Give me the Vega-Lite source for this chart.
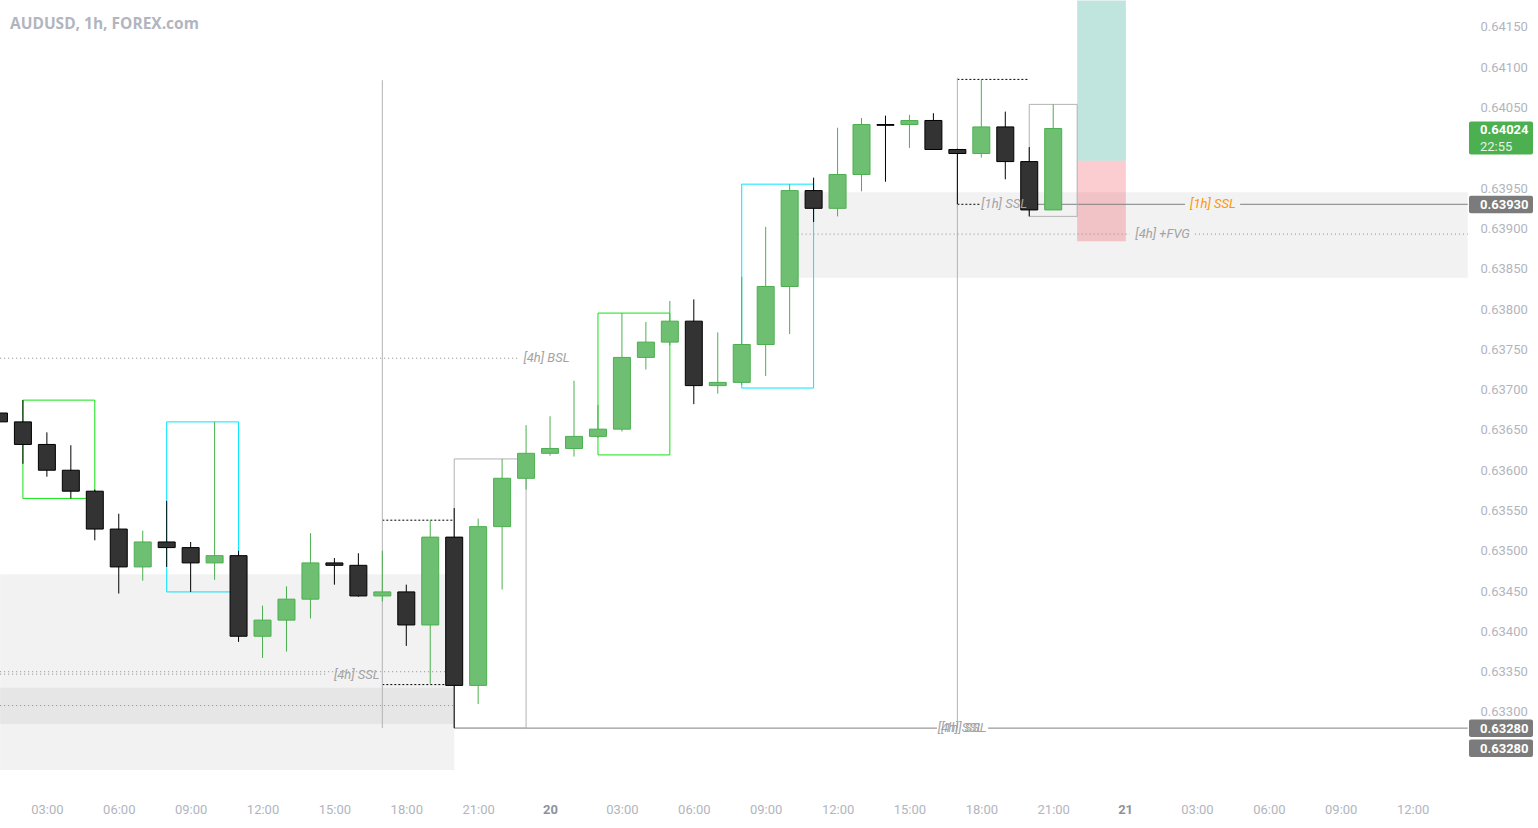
{
  "$schema": "https://vega.github.io/schema/vega-lite/v6.json",
  "width": 1468,
  "height": 795,
  "autosize": {"type": "none"},
  "padding": {"left": 0, "top": 0, "right": 70, "bottom": 33},
  "background": "#ffffff",
  "config": {
    "view": {"stroke": null},
    "axis": {"domain": false, "ticks": false, "grid": false, "labelFont": "Roboto", "labelFontSize": 13, "labelColor": "#b2b5be", "labelOverlap": false, "labelFlush": false, "labelBound": false}
  },
  "title": {"text": "AUDUSD, 1h, FOREX.com", "anchor": "start", "frame": "group", "orient": "top", "offset": 0, "baseline": "alphabetic", "dx": 10, "dy": 44, "font": "Open Sans", "fontSize": 15.5, "fontWeight": "bold", "color": "#b2b5be"},
  "datasets": {
    "candles": [
      {"t": "2024-11-19T01:00:00Z", "o": 0.63671, "h": 0.63674, "l": 0.63657, "c": 0.63660},
      {"t": "2024-11-19T02:00:00Z", "o": 0.63660, "h": 0.63687, "l": 0.63608, "c": 0.63632},
      {"t": "2024-11-19T03:00:00Z", "o": 0.63632, "h": 0.63647, "l": 0.63592, "c": 0.63600},
      {"t": "2024-11-19T04:00:00Z", "o": 0.63600, "h": 0.63631, "l": 0.63565, "c": 0.63574},
      {"t": "2024-11-19T05:00:00Z", "o": 0.63574, "h": 0.63576, "l": 0.63513, "c": 0.63527},
      {"t": "2024-11-19T06:00:00Z", "o": 0.63527, "h": 0.63546, "l": 0.63447, "c": 0.63480},
      {"t": "2024-11-19T07:00:00Z", "o": 0.63480, "h": 0.63525, "l": 0.63463, "c": 0.63511},
      {"t": "2024-11-19T08:00:00Z", "o": 0.63511, "h": 0.63562, "l": 0.63480, "c": 0.63504},
      {"t": "2024-11-19T09:00:00Z", "o": 0.63504, "h": 0.63511, "l": 0.63449, "c": 0.63485},
      {"t": "2024-11-19T10:00:00Z", "o": 0.63485, "h": 0.63660, "l": 0.63464, "c": 0.63494},
      {"t": "2024-11-19T11:00:00Z", "o": 0.63494, "h": 0.63500, "l": 0.63387, "c": 0.63394},
      {"t": "2024-11-19T12:00:00Z", "o": 0.63394, "h": 0.63432, "l": 0.63367, "c": 0.63414},
      {"t": "2024-11-19T13:00:00Z", "o": 0.63414, "h": 0.63456, "l": 0.63375, "c": 0.63440},
      {"t": "2024-11-19T14:00:00Z", "o": 0.63440, "h": 0.63522, "l": 0.63416, "c": 0.63485},
      {"t": "2024-11-19T15:00:00Z", "o": 0.63485, "h": 0.63491, "l": 0.63458, "c": 0.63482},
      {"t": "2024-11-19T16:00:00Z", "o": 0.63482, "h": 0.63497, "l": 0.63443, "c": 0.63444},
      {"t": "2024-11-19T17:00:00Z", "o": 0.63444, "h": 0.63500, "l": 0.63437, "c": 0.63449},
      {"t": "2024-11-19T18:00:00Z", "o": 0.63449, "h": 0.63458, "l": 0.63382, "c": 0.63408},
      {"t": "2024-11-19T19:00:00Z", "o": 0.63408, "h": 0.63538, "l": 0.63335, "c": 0.63517},
      {"t": "2024-11-19T20:00:00Z", "o": 0.63517, "h": 0.63553, "l": 0.63280, "c": 0.63333},
      {"t": "2024-11-19T21:00:00Z", "o": 0.63333, "h": 0.63540, "l": 0.63310, "c": 0.63530},
      {"t": "2024-11-19T22:00:00Z", "o": 0.63530, "h": 0.63614, "l": 0.63452, "c": 0.63590},
      {"t": "2024-11-19T23:00:00Z", "o": 0.63590, "h": 0.63656, "l": 0.63576, "c": 0.63621},
      {"t": "2024-11-20T00:00:00Z", "o": 0.63621, "h": 0.63667, "l": 0.63618, "c": 0.63627},
      {"t": "2024-11-20T01:00:00Z", "o": 0.63627, "h": 0.63711, "l": 0.63617, "c": 0.63642},
      {"t": "2024-11-20T02:00:00Z", "o": 0.63642, "h": 0.63681, "l": 0.63640, "c": 0.63651},
      {"t": "2024-11-20T03:00:00Z", "o": 0.63651, "h": 0.63795, "l": 0.63648, "c": 0.63740},
      {"t": "2024-11-20T04:00:00Z", "o": 0.63740, "h": 0.63784, "l": 0.63725, "c": 0.63759},
      {"t": "2024-11-20T05:00:00Z", "o": 0.63759, "h": 0.63810, "l": 0.63755, "c": 0.63785},
      {"t": "2024-11-20T06:00:00Z", "o": 0.63785, "h": 0.63812, "l": 0.63682, "c": 0.63705},
      {"t": "2024-11-20T07:00:00Z", "o": 0.63705, "h": 0.63771, "l": 0.63695, "c": 0.63709},
      {"t": "2024-11-20T08:00:00Z", "o": 0.63709, "h": 0.63840, "l": 0.63706, "c": 0.63756},
      {"t": "2024-11-20T09:00:00Z", "o": 0.63756, "h": 0.63902, "l": 0.63717, "c": 0.63828},
      {"t": "2024-11-20T10:00:00Z", "o": 0.63828, "h": 0.63955, "l": 0.63769, "c": 0.63947},
      {"t": "2024-11-20T11:00:00Z", "o": 0.63947, "h": 0.63963, "l": 0.63908, "c": 0.63925},
      {"t": "2024-11-20T12:00:00Z", "o": 0.63925, "h": 0.64025, "l": 0.63915, "c": 0.63967},
      {"t": "2024-11-20T13:00:00Z", "o": 0.63967, "h": 0.64037, "l": 0.63946, "c": 0.64029},
      {"t": "2024-11-20T14:00:00Z", "o": 0.64029, "h": 0.64040, "l": 0.63958, "c": 0.64028},
      {"t": "2024-11-20T15:00:00Z", "o": 0.64029, "h": 0.64041, "l": 0.64000, "c": 0.64034},
      {"t": "2024-11-20T16:00:00Z", "o": 0.64034, "h": 0.64043, "l": 0.63998, "c": 0.63998},
      {"t": "2024-11-20T17:00:00Z", "o": 0.63998, "h": 0.63999, "l": 0.63930, "c": 0.63993},
      {"t": "2024-11-20T18:00:00Z", "o": 0.63993, "h": 0.64085, "l": 0.63988, "c": 0.64026},
      {"t": "2024-11-20T19:00:00Z", "o": 0.64026, "h": 0.64045, "l": 0.63961, "c": 0.63983},
      {"t": "2024-11-20T20:00:00Z", "o": 0.63983, "h": 0.64001, "l": 0.63915, "c": 0.63923},
      {"t": "2024-11-20T21:00:00Z", "o": 0.63923, "h": 0.64054, "l": 0.63923, "c": 0.64024}
    ],
    "zones": [
      {"t1": "2024-11-19T01:03:00Z", "t2": "2024-11-19T20:00:00Z", "p1": 0.63285, "p2": 0.63471},
      {"t1": "2024-11-19T01:03:00Z", "t2": "2024-11-19T20:00:00Z", "p1": 0.63228, "p2": 0.63330},
      {"t1": "2024-11-20T10:00:00Z", "t2": "2024-11-21T14:18:00Z", "p1": 0.63839, "p2": 0.63945}
    ],
    "position": [
      {"kind": "target", "t1": "2024-11-20T22:00:00Z", "t2": "2024-11-21T00:02:00Z", "p1": 0.63984, "p2": 0.64183},
      {"kind": "stop", "t1": "2024-11-20T22:00:00Z", "t2": "2024-11-21T00:02:00Z", "p1": 0.63884, "p2": 0.63984}
    ],
    "dotGray": [
      {"t1": "2024-11-19T01:03:00Z", "t2": "2024-11-19T22:42:00Z", "p": 0.63739},
      {"t1": "2024-11-19T01:03:00Z", "t2": "2024-11-19T20:00:00Z", "p": 0.63350},
      {"t1": "2024-11-19T01:03:00Z", "t2": "2024-11-19T14:44:00Z", "p": 0.63347},
      {"t1": "2024-11-19T01:03:00Z", "t2": "2024-11-19T20:00:00Z", "p": 0.63308},
      {"t1": "2024-11-20T10:00:00Z", "t2": "2024-11-21T00:12:00Z", "p": 0.63893},
      {"t1": "2024-11-21T02:55:00Z", "t2": "2024-11-21T14:18:00Z", "p": 0.63893}
    ],
    "dotBlack": [
      {"t1": "2024-11-19T17:00:00Z", "t2": "2024-11-19T20:00:00Z", "p": 0.63538},
      {"t1": "2024-11-19T17:00:00Z", "t2": "2024-11-19T20:00:00Z", "p": 0.63334},
      {"t1": "2024-11-20T17:00:00Z", "t2": "2024-11-20T20:00:00Z", "p": 0.64085},
      {"t1": "2024-11-20T17:00:00Z", "t2": "2024-11-20T17:57:00Z", "p": 0.63930}
    ],
    "solidGray": [
      {"t1": "2024-11-20T19:54:00Z", "t2": "2024-11-21T02:30:00Z", "p": 0.63930},
      {"t1": "2024-11-21T04:48:00Z", "t2": "2024-11-21T14:18:00Z", "p": 0.63930},
      {"t1": "2024-11-19T20:00:00Z", "t2": "2024-11-20T16:09:00Z", "p": 0.63280},
      {"t1": "2024-11-20T18:17:00Z", "t2": "2024-11-21T14:18:00Z", "p": 0.63280}
    ],
    "vlines": [
      {"t": "2024-11-19T17:00:00Z", "p1": 0.63280, "p2": 0.64084},
      {"t": "2024-11-20T17:00:00Z", "p1": 0.63280, "p2": 0.64087}
    ],
    "boxes": [
      {"kind": "lime", "t1": "2024-11-19T02:00:00Z", "t2": "2024-11-19T05:00:00Z", "p1": 0.63565, "p2": 0.63687},
      {"kind": "cyan", "t1": "2024-11-19T08:00:00Z", "t2": "2024-11-19T11:00:00Z", "p1": 0.63449, "p2": 0.63660},
      {"kind": "gray", "t1": "2024-11-19T20:00:00Z", "t2": "2024-11-19T23:00:00Z", "p1": 0.63280, "p2": 0.63614},
      {"kind": "lime", "t1": "2024-11-20T02:00:00Z", "t2": "2024-11-20T05:00:00Z", "p1": 0.63619, "p2": 0.63795},
      {"kind": "cyan", "t1": "2024-11-20T08:00:00Z", "t2": "2024-11-20T11:00:00Z", "p1": 0.63702, "p2": 0.63955},
      {"kind": "gray", "t1": "2024-11-20T20:00:00Z", "t2": "2024-11-20T22:00:00Z", "p1": 0.63915, "p2": 0.64054}
    ],
    "labels": [
      {"text": "[4h] BSL", "t": "2024-11-19T23:51:00Z", "p": 0.63739, "kind": "gray"},
      {"text": "[4h] SSL", "t": "2024-11-19T15:56:00Z", "p": 0.63346, "kind": "gray"},
      {"text": "[1h] SSL", "t": "2024-11-20T18:57:00Z", "p": 0.63930, "kind": "gray"},
      {"text": "[1h] SSL", "t": "2024-11-21T03:40:00Z", "p": 0.63930, "kind": "orange"},
      {"text": "[4h] +FVG", "t": "2024-11-21T01:34:00Z", "p": 0.63893, "kind": "gray"},
      {"text": "[4h] SSL", "t": "2024-11-20T17:08:00Z", "p": 0.63280, "kind": "gray"},
      {"text": "[1h] SSL", "t": "2024-11-20T17:16:00Z", "p": 0.63280, "kind": "gray"}
    ],
    "lastTag": [
      {"p": 0.64024, "label": "0.64024", "sub": "22:55"}
    ],
    "lineTags": [
      {"p": 0.63930, "label": "0.63930"},
      {"p": 0.63280, "label": "0.63280"}
    ],
    "stackTags": [
      {"p": 0.63280, "label": "0.63280"}
    ]
  },
  "layer": [
    {
      "data": {"name": "zones"},
      "mark": {"type": "rect", "fill": "#808080", "opacity": 0.1},
      "encoding": {
        "x": {"field": "t1", "type": "temporal", "scale": {"type": "utc", "domain": [1731978156000, 1732198723000], "padding": 0},
          "axis": {"orient": "bottom", "title": null, "values": [1731985200000, 1731996000000, 1732006800000, 1732017600000, 1732028400000, 1732039200000, 1732050000000, 1732060800000, 1732071600000, 1732082400000, 1732093200000, 1732104000000, 1732114800000, 1732125600000, 1732136400000, 1732147200000, 1732158000000, 1732168800000, 1732179600000, 1732190400000], "labelExpr": "utchours(datum.value) == 0 ? utcFormat(datum.value, '%d') : utcFormat(datum.value, '%H:%M')", "labelPadding": 8, "labelFontWeight": {"condition": {"test": "utchours(datum.value) == 0", "value": "bold"}, "value": "normal"}, "labelColor": {"condition": {"test": "utchours(datum.value) == 0", "value": "#8f929b"}, "value": "#b2b5be"}}},
        "x2": {"field": "t2"},
        "y": {"field": "p1", "type": "quantitative", "scale": {"domain": [0.63197, 0.641835], "nice": false, "zero": false, "padding": 0},
          "axis": {"orient": "right", "title": null, "values": [0.633, 0.6335, 0.634, 0.6345, 0.635, 0.6355, 0.636, 0.6365, 0.637, 0.6375, 0.638, 0.6385, 0.639, 0.6395, 0.6405, 0.641, 0.6415], "format": ".5f", "labelPadding": 12}},
        "y2": {"field": "p2"}
      }
    },
    {
      "data": {"name": "position"},
      "transform": [{"filter": "datum.kind == 'target'"}],
      "mark": {"type": "rect", "fill": "#089981", "opacity": 0.26},
      "encoding": {
        "x": {"field": "t1", "type": "temporal", "scale": {"type": "utc", "domain": [1731978156000, 1732198723000], "padding": 0},
          "axis": {"orient": "bottom", "title": null, "values": [1731985200000, 1731996000000, 1732006800000, 1732017600000, 1732028400000, 1732039200000, 1732050000000, 1732060800000, 1732071600000, 1732082400000, 1732093200000, 1732104000000, 1732114800000, 1732125600000, 1732136400000, 1732147200000, 1732158000000, 1732168800000, 1732179600000, 1732190400000], "labelExpr": "utchours(datum.value) == 0 ? utcFormat(datum.value, '%d') : utcFormat(datum.value, '%H:%M')", "labelPadding": 8, "labelFontWeight": {"condition": {"test": "utchours(datum.value) == 0", "value": "bold"}, "value": "normal"}, "labelColor": {"condition": {"test": "utchours(datum.value) == 0", "value": "#8f929b"}, "value": "#b2b5be"}}},
        "x2": {"field": "t2"},
        "y": {"field": "p1", "type": "quantitative", "scale": {"domain": [0.63197, 0.641835], "nice": false, "zero": false, "padding": 0},
          "axis": {"orient": "right", "title": null, "values": [0.633, 0.6335, 0.634, 0.6345, 0.635, 0.6355, 0.636, 0.6365, 0.637, 0.6375, 0.638, 0.6385, 0.639, 0.6395, 0.6405, 0.641, 0.6415], "format": ".5f", "labelPadding": 12}},
        "y2": {"field": "p2"}
      }
    },
    {
      "data": {"name": "position"},
      "transform": [{"filter": "datum.kind == 'stop'"}],
      "mark": {"type": "rect", "fill": "#f23645", "opacity": 0.25},
      "encoding": {
        "x": {"field": "t1", "type": "temporal", "scale": {"type": "utc", "domain": [1731978156000, 1732198723000], "padding": 0},
          "axis": {"orient": "bottom", "title": null, "values": [1731985200000, 1731996000000, 1732006800000, 1732017600000, 1732028400000, 1732039200000, 1732050000000, 1732060800000, 1732071600000, 1732082400000, 1732093200000, 1732104000000, 1732114800000, 1732125600000, 1732136400000, 1732147200000, 1732158000000, 1732168800000, 1732179600000, 1732190400000], "labelExpr": "utchours(datum.value) == 0 ? utcFormat(datum.value, '%d') : utcFormat(datum.value, '%H:%M')", "labelPadding": 8, "labelFontWeight": {"condition": {"test": "utchours(datum.value) == 0", "value": "bold"}, "value": "normal"}, "labelColor": {"condition": {"test": "utchours(datum.value) == 0", "value": "#8f929b"}, "value": "#b2b5be"}}},
        "x2": {"field": "t2"},
        "y": {"field": "p1", "type": "quantitative", "scale": {"domain": [0.63197, 0.641835], "nice": false, "zero": false, "padding": 0},
          "axis": {"orient": "right", "title": null, "values": [0.633, 0.6335, 0.634, 0.6345, 0.635, 0.6355, 0.636, 0.6365, 0.637, 0.6375, 0.638, 0.6385, 0.639, 0.6395, 0.6405, 0.641, 0.6415], "format": ".5f", "labelPadding": 12}},
        "y2": {"field": "p2"}
      }
    },
    {
      "data": {"name": "dotGray"},
      "mark": {"type": "rule", "stroke": "#8c8c8c", "strokeWidth": 1, "strokeDash": [1, 3]},
      "encoding": {
        "x": {"field": "t1", "type": "temporal", "scale": {"type": "utc", "domain": [1731978156000, 1732198723000], "padding": 0},
          "axis": {"orient": "bottom", "title": null, "values": [1731985200000, 1731996000000, 1732006800000, 1732017600000, 1732028400000, 1732039200000, 1732050000000, 1732060800000, 1732071600000, 1732082400000, 1732093200000, 1732104000000, 1732114800000, 1732125600000, 1732136400000, 1732147200000, 1732158000000, 1732168800000, 1732179600000, 1732190400000], "labelExpr": "utchours(datum.value) == 0 ? utcFormat(datum.value, '%d') : utcFormat(datum.value, '%H:%M')", "labelPadding": 8, "labelFontWeight": {"condition": {"test": "utchours(datum.value) == 0", "value": "bold"}, "value": "normal"}, "labelColor": {"condition": {"test": "utchours(datum.value) == 0", "value": "#8f929b"}, "value": "#b2b5be"}}},
        "x2": {"field": "t2"},
        "y": {"field": "p", "type": "quantitative", "scale": {"domain": [0.63197, 0.641835], "nice": false, "zero": false, "padding": 0},
          "axis": {"orient": "right", "title": null, "values": [0.633, 0.6335, 0.634, 0.6345, 0.635, 0.6355, 0.636, 0.6365, 0.637, 0.6375, 0.638, 0.6385, 0.639, 0.6395, 0.6405, 0.641, 0.6415], "format": ".5f", "labelPadding": 12}}
      }
    },
    {
      "data": {"name": "dotBlack"},
      "mark": {"type": "rule", "stroke": "#000000", "strokeWidth": 1, "strokeDash": [2, 2]},
      "encoding": {
        "x": {"field": "t1", "type": "temporal", "scale": {"type": "utc", "domain": [1731978156000, 1732198723000], "padding": 0},
          "axis": {"orient": "bottom", "title": null, "values": [1731985200000, 1731996000000, 1732006800000, 1732017600000, 1732028400000, 1732039200000, 1732050000000, 1732060800000, 1732071600000, 1732082400000, 1732093200000, 1732104000000, 1732114800000, 1732125600000, 1732136400000, 1732147200000, 1732158000000, 1732168800000, 1732179600000, 1732190400000], "labelExpr": "utchours(datum.value) == 0 ? utcFormat(datum.value, '%d') : utcFormat(datum.value, '%H:%M')", "labelPadding": 8, "labelFontWeight": {"condition": {"test": "utchours(datum.value) == 0", "value": "bold"}, "value": "normal"}, "labelColor": {"condition": {"test": "utchours(datum.value) == 0", "value": "#8f929b"}, "value": "#b2b5be"}}},
        "x2": {"field": "t2"},
        "y": {"field": "p", "type": "quantitative", "scale": {"domain": [0.63197, 0.641835], "nice": false, "zero": false, "padding": 0},
          "axis": {"orient": "right", "title": null, "values": [0.633, 0.6335, 0.634, 0.6345, 0.635, 0.6355, 0.636, 0.6365, 0.637, 0.6375, 0.638, 0.6385, 0.639, 0.6395, 0.6405, 0.641, 0.6415], "format": ".5f", "labelPadding": 12}}
      }
    },
    {
      "data": {"name": "solidGray"},
      "mark": {"type": "rule", "stroke": "#808080", "strokeWidth": 1},
      "encoding": {
        "x": {"field": "t1", "type": "temporal", "scale": {"type": "utc", "domain": [1731978156000, 1732198723000], "padding": 0},
          "axis": {"orient": "bottom", "title": null, "values": [1731985200000, 1731996000000, 1732006800000, 1732017600000, 1732028400000, 1732039200000, 1732050000000, 1732060800000, 1732071600000, 1732082400000, 1732093200000, 1732104000000, 1732114800000, 1732125600000, 1732136400000, 1732147200000, 1732158000000, 1732168800000, 1732179600000, 1732190400000], "labelExpr": "utchours(datum.value) == 0 ? utcFormat(datum.value, '%d') : utcFormat(datum.value, '%H:%M')", "labelPadding": 8, "labelFontWeight": {"condition": {"test": "utchours(datum.value) == 0", "value": "bold"}, "value": "normal"}, "labelColor": {"condition": {"test": "utchours(datum.value) == 0", "value": "#8f929b"}, "value": "#b2b5be"}}},
        "x2": {"field": "t2"},
        "y": {"field": "p", "type": "quantitative", "scale": {"domain": [0.63197, 0.641835], "nice": false, "zero": false, "padding": 0},
          "axis": {"orient": "right", "title": null, "values": [0.633, 0.6335, 0.634, 0.6345, 0.635, 0.6355, 0.636, 0.6365, 0.637, 0.6375, 0.638, 0.6385, 0.639, 0.6395, 0.6405, 0.641, 0.6415], "format": ".5f", "labelPadding": 12}}
      }
    },
    {
      "data": {"name": "vlines"},
      "mark": {"type": "rule", "stroke": "#b2b2b2", "strokeWidth": 1},
      "encoding": {
        "x": {"field": "t", "type": "temporal", "scale": {"type": "utc", "domain": [1731978156000, 1732198723000], "padding": 0},
          "axis": {"orient": "bottom", "title": null, "values": [1731985200000, 1731996000000, 1732006800000, 1732017600000, 1732028400000, 1732039200000, 1732050000000, 1732060800000, 1732071600000, 1732082400000, 1732093200000, 1732104000000, 1732114800000, 1732125600000, 1732136400000, 1732147200000, 1732158000000, 1732168800000, 1732179600000, 1732190400000], "labelExpr": "utchours(datum.value) == 0 ? utcFormat(datum.value, '%d') : utcFormat(datum.value, '%H:%M')", "labelPadding": 8, "labelFontWeight": {"condition": {"test": "utchours(datum.value) == 0", "value": "bold"}, "value": "normal"}, "labelColor": {"condition": {"test": "utchours(datum.value) == 0", "value": "#8f929b"}, "value": "#b2b5be"}}},
        "y": {"field": "p1", "type": "quantitative", "scale": {"domain": [0.63197, 0.641835], "nice": false, "zero": false, "padding": 0},
          "axis": {"orient": "right", "title": null, "values": [0.633, 0.6335, 0.634, 0.6345, 0.635, 0.6355, 0.636, 0.6365, 0.637, 0.6375, 0.638, 0.6385, 0.639, 0.6395, 0.6405, 0.641, 0.6415], "format": ".5f", "labelPadding": 12}},
        "y2": {"field": "p2"}
      }
    },
    {
      "data": {"name": "boxes"},
      "mark": {"type": "rect", "fill": "#ffffff", "fillOpacity": 0, "strokeWidth": 1},
      "encoding": {
        "x": {"field": "t1", "type": "temporal", "scale": {"type": "utc", "domain": [1731978156000, 1732198723000], "padding": 0},
          "axis": {"orient": "bottom", "title": null, "values": [1731985200000, 1731996000000, 1732006800000, 1732017600000, 1732028400000, 1732039200000, 1732050000000, 1732060800000, 1732071600000, 1732082400000, 1732093200000, 1732104000000, 1732114800000, 1732125600000, 1732136400000, 1732147200000, 1732158000000, 1732168800000, 1732179600000, 1732190400000], "labelExpr": "utchours(datum.value) == 0 ? utcFormat(datum.value, '%d') : utcFormat(datum.value, '%H:%M')", "labelPadding": 8, "labelFontWeight": {"condition": {"test": "utchours(datum.value) == 0", "value": "bold"}, "value": "normal"}, "labelColor": {"condition": {"test": "utchours(datum.value) == 0", "value": "#8f929b"}, "value": "#b2b5be"}}},
        "x2": {"field": "t2"},
        "y": {"field": "p1", "type": "quantitative", "scale": {"domain": [0.63197, 0.641835], "nice": false, "zero": false, "padding": 0},
          "axis": {"orient": "right", "title": null, "values": [0.633, 0.6335, 0.634, 0.6345, 0.635, 0.6355, 0.636, 0.6365, 0.637, 0.6375, 0.638, 0.6385, 0.639, 0.6395, 0.6405, 0.641, 0.6415], "format": ".5f", "labelPadding": 12}},
        "y2": {"field": "p2"},
        "stroke": {"field": "kind", "type": "nominal", "scale": {"domain": ["lime", "cyan", "gray"], "range": ["#12e312", "#00e5ff", "#b2b2b2"]}, "legend": null}
      }
    },
    {
      "data": {"name": "candles"},
      "mark": {"type": "rule", "strokeWidth": 1},
      "encoding": {
        "x": {"field": "t", "type": "temporal", "scale": {"type": "utc", "domain": [1731978156000, 1732198723000], "padding": 0},
          "axis": {"orient": "bottom", "title": null, "values": [1731985200000, 1731996000000, 1732006800000, 1732017600000, 1732028400000, 1732039200000, 1732050000000, 1732060800000, 1732071600000, 1732082400000, 1732093200000, 1732104000000, 1732114800000, 1732125600000, 1732136400000, 1732147200000, 1732158000000, 1732168800000, 1732179600000, 1732190400000], "labelExpr": "utchours(datum.value) == 0 ? utcFormat(datum.value, '%d') : utcFormat(datum.value, '%H:%M')", "labelPadding": 8, "labelFontWeight": {"condition": {"test": "utchours(datum.value) == 0", "value": "bold"}, "value": "normal"}, "labelColor": {"condition": {"test": "utchours(datum.value) == 0", "value": "#8f929b"}, "value": "#b2b5be"}}},
        "y": {"field": "l", "type": "quantitative", "scale": {"domain": [0.63197, 0.641835], "nice": false, "zero": false, "padding": 0},
          "axis": {"orient": "right", "title": null, "values": [0.633, 0.6335, 0.634, 0.6345, 0.635, 0.6355, 0.636, 0.6365, 0.637, 0.6375, 0.638, 0.6385, 0.639, 0.6395, 0.6405, 0.641, 0.6415], "format": ".5f", "labelPadding": 12}},
        "y2": {"field": "h"},
        "color": {"condition": {"test": "datum.c >= datum.o", "value": "#4caf50"}, "value": "#000000"}
      }
    },
    {
      "data": {"name": "candles"},
      "mark": {"type": "bar", "size": 17, "strokeWidth": 1},
      "encoding": {
        "x": {"field": "t", "type": "temporal", "scale": {"type": "utc", "domain": [1731978156000, 1732198723000], "padding": 0},
          "axis": {"orient": "bottom", "title": null, "values": [1731985200000, 1731996000000, 1732006800000, 1732017600000, 1732028400000, 1732039200000, 1732050000000, 1732060800000, 1732071600000, 1732082400000, 1732093200000, 1732104000000, 1732114800000, 1732125600000, 1732136400000, 1732147200000, 1732158000000, 1732168800000, 1732179600000, 1732190400000], "labelExpr": "utchours(datum.value) == 0 ? utcFormat(datum.value, '%d') : utcFormat(datum.value, '%H:%M')", "labelPadding": 8, "labelFontWeight": {"condition": {"test": "utchours(datum.value) == 0", "value": "bold"}, "value": "normal"}, "labelColor": {"condition": {"test": "utchours(datum.value) == 0", "value": "#8f929b"}, "value": "#b2b5be"}}},
        "y": {"field": "o", "type": "quantitative", "scale": {"domain": [0.63197, 0.641835], "nice": false, "zero": false, "padding": 0},
          "axis": {"orient": "right", "title": null, "values": [0.633, 0.6335, 0.634, 0.6345, 0.635, 0.6355, 0.636, 0.6365, 0.637, 0.6375, 0.638, 0.6385, 0.639, 0.6395, 0.6405, 0.641, 0.6415], "format": ".5f", "labelPadding": 12}},
        "y2": {"field": "c"},
        "fill": {"condition": {"test": "datum.c >= datum.o", "value": "#6fbf73"}, "value": "#333333"},
        "stroke": {"condition": {"test": "datum.c >= datum.o", "value": "#4caf50"}, "value": "#000000"}
      }
    },
    {
      "data": {"name": "labels"},
      "mark": {"type": "text", "align": "center", "baseline": "middle", "font": "Roboto", "fontSize": 13, "fontStyle": "italic"},
      "encoding": {
        "x": {"field": "t", "type": "temporal", "scale": {"type": "utc", "domain": [1731978156000, 1732198723000], "padding": 0},
          "axis": {"orient": "bottom", "title": null, "values": [1731985200000, 1731996000000, 1732006800000, 1732017600000, 1732028400000, 1732039200000, 1732050000000, 1732060800000, 1732071600000, 1732082400000, 1732093200000, 1732104000000, 1732114800000, 1732125600000, 1732136400000, 1732147200000, 1732158000000, 1732168800000, 1732179600000, 1732190400000], "labelExpr": "utchours(datum.value) == 0 ? utcFormat(datum.value, '%d') : utcFormat(datum.value, '%H:%M')", "labelPadding": 8, "labelFontWeight": {"condition": {"test": "utchours(datum.value) == 0", "value": "bold"}, "value": "normal"}, "labelColor": {"condition": {"test": "utchours(datum.value) == 0", "value": "#8f929b"}, "value": "#b2b5be"}}},
        "y": {"field": "p", "type": "quantitative", "scale": {"domain": [0.63197, 0.641835], "nice": false, "zero": false, "padding": 0},
          "axis": {"orient": "right", "title": null, "values": [0.633, 0.6335, 0.634, 0.6345, 0.635, 0.6355, 0.636, 0.6365, 0.637, 0.6375, 0.638, 0.6385, 0.639, 0.6395, 0.6405, 0.641, 0.6415], "format": ".5f", "labelPadding": 12}},
        "text": {"field": "text"},
        "color": {"field": "kind", "type": "nominal", "scale": {"domain": ["gray", "orange"], "range": ["#a3a3a3", "#ff9800"]}, "legend": null}
      }
    },
    {
      "data": {"name": "lastTag"},
      "mark": {"type": "rect", "fill": "#4caf50", "yOffset": -7, "y2Offset": 26, "xOffset": 1, "x2Offset": 65, "cornerRadius": 2},
      "encoding": {
        "x": {"value": "width"},
        "x2": {"value": "width"},
        "y": {"field": "p", "type": "quantitative", "scale": {"domain": [0.63197, 0.641835], "nice": false, "zero": false, "padding": 0},
          "axis": {"orient": "right", "title": null, "values": [0.633, 0.6335, 0.634, 0.6345, 0.635, 0.6355, 0.636, 0.6365, 0.637, 0.6375, 0.638, 0.6385, 0.639, 0.6395, 0.6405, 0.641, 0.6415], "format": ".5f", "labelPadding": 12}},
        "y2": {"field": "p"}
      }
    },
    {
      "data": {"name": "lineTags"},
      "mark": {"type": "rect", "fill": "#7b7b7b", "yOffset": -8.5, "y2Offset": 9, "xOffset": 1, "x2Offset": 65, "cornerRadius": 2},
      "encoding": {
        "x": {"value": "width"},
        "x2": {"value": "width"},
        "y": {"field": "p", "type": "quantitative", "scale": {"domain": [0.63197, 0.641835], "nice": false, "zero": false, "padding": 0},
          "axis": {"orient": "right", "title": null, "values": [0.633, 0.6335, 0.634, 0.6345, 0.635, 0.6355, 0.636, 0.6365, 0.637, 0.6375, 0.638, 0.6385, 0.639, 0.6395, 0.6405, 0.641, 0.6415], "format": ".5f", "labelPadding": 12}},
        "y2": {"field": "p"}
      }
    },
    {
      "data": {"name": "stackTags"},
      "mark": {"type": "rect", "fill": "#7b7b7b", "yOffset": 11.5, "y2Offset": 29, "xOffset": 1, "x2Offset": 65, "cornerRadius": 2},
      "encoding": {
        "x": {"value": "width"},
        "x2": {"value": "width"},
        "y": {"field": "p", "type": "quantitative", "scale": {"domain": [0.63197, 0.641835], "nice": false, "zero": false, "padding": 0},
          "axis": {"orient": "right", "title": null, "values": [0.633, 0.6335, 0.634, 0.6345, 0.635, 0.6355, 0.636, 0.6365, 0.637, 0.6375, 0.638, 0.6385, 0.639, 0.6395, 0.6405, 0.641, 0.6415], "format": ".5f", "labelPadding": 12}},
        "y2": {"field": "p"}
      }
    },
    {
      "data": {"name": "lastTag"},
      "mark": {"type": "text", "align": "left", "baseline": "middle", "dx": 12, "dy": 1.5, "font": "Roboto", "fontSize": 13, "fontWeight": "bold", "color": "#ffffff"},
      "encoding": {
        "x": {"value": "width"},
        "y": {"field": "p", "type": "quantitative", "scale": {"domain": [0.63197, 0.641835], "nice": false, "zero": false, "padding": 0},
          "axis": {"orient": "right", "title": null, "values": [0.633, 0.6335, 0.634, 0.6345, 0.635, 0.6355, 0.636, 0.6365, 0.637, 0.6375, 0.638, 0.6385, 0.639, 0.6395, 0.6405, 0.641, 0.6415], "format": ".5f", "labelPadding": 12}},
        "text": {"field": "label"}
      }
    },
    {
      "data": {"name": "lastTag"},
      "mark": {"type": "text", "align": "left", "baseline": "middle", "dx": 12, "dy": 18, "font": "Roboto", "fontSize": 13, "color": "#e3f3e3"},
      "encoding": {
        "x": {"value": "width"},
        "y": {"field": "p", "type": "quantitative", "scale": {"domain": [0.63197, 0.641835], "nice": false, "zero": false, "padding": 0},
          "axis": {"orient": "right", "title": null, "values": [0.633, 0.6335, 0.634, 0.6345, 0.635, 0.6355, 0.636, 0.6365, 0.637, 0.6375, 0.638, 0.6385, 0.639, 0.6395, 0.6405, 0.641, 0.6415], "format": ".5f", "labelPadding": 12}},
        "text": {"field": "sub"}
      }
    },
    {
      "data": {"name": "lineTags"},
      "mark": {"type": "text", "align": "left", "baseline": "middle", "dx": 12, "dy": 1, "font": "Roboto", "fontSize": 13, "fontWeight": "bold", "color": "#ffffff"},
      "encoding": {
        "x": {"value": "width"},
        "y": {"field": "p", "type": "quantitative", "scale": {"domain": [0.63197, 0.641835], "nice": false, "zero": false, "padding": 0},
          "axis": {"orient": "right", "title": null, "values": [0.633, 0.6335, 0.634, 0.6345, 0.635, 0.6355, 0.636, 0.6365, 0.637, 0.6375, 0.638, 0.6385, 0.639, 0.6395, 0.6405, 0.641, 0.6415], "format": ".5f", "labelPadding": 12}},
        "text": {"field": "label"}
      }
    },
    {
      "data": {"name": "stackTags"},
      "mark": {"type": "text", "align": "left", "baseline": "middle", "dx": 12, "dy": 21, "font": "Roboto", "fontSize": 13, "fontWeight": "bold", "color": "#ffffff"},
      "encoding": {
        "x": {"value": "width"},
        "y": {"field": "p", "type": "quantitative", "scale": {"domain": [0.63197, 0.641835], "nice": false, "zero": false, "padding": 0},
          "axis": {"orient": "right", "title": null, "values": [0.633, 0.6335, 0.634, 0.6345, 0.635, 0.6355, 0.636, 0.6365, 0.637, 0.6375, 0.638, 0.6385, 0.639, 0.6395, 0.6405, 0.641, 0.6415], "format": ".5f", "labelPadding": 12}},
        "text": {"field": "label"}
      }
    }
  ]
}
